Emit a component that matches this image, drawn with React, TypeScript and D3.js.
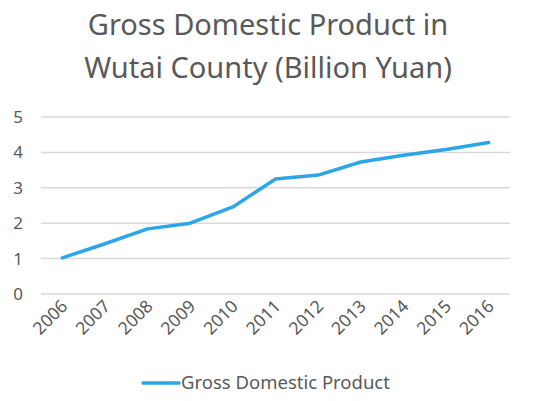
import { useEffect, useRef } from "react";
import * as d3 from "d3";

const years = ["2006", "2007", "2008", "2009", "2010", "2011", "2012", "2013", "2014", "2015", "2016"];
const gdp = [1.02, 1.42, 1.84, 2.0, 2.46, 3.25, 3.36, 3.73, 3.92, 4.08, 4.28];
const yTicks = [0, 1, 2, 3, 4, 5];
const titleLines = ["Gross Domestic Product in", "Wutai County (Billion Yuan)"];
const seriesName = "Gross Domestic Product";

const width = 550;
const height = 401;
const margin = { top: 117, right: 40, bottom: 107, left: 41 };
const lineColor = "#2CA5E9";
const textColor = "#595959";
const font = "'Noto Sans', sans-serif";

const App = () => {
  const ref = useRef<SVGSVGElement | null>(null);

  useEffect(() => {
    const svg = d3.select(ref.current);
    svg.selectAll("*").remove();

    const x = d3
      .scaleBand<string>()
      .domain(years)
      .range([margin.left, width - margin.right]);

    const y = d3
      .scaleLinear()
      .domain([0, 5])
      .range([height - margin.bottom, margin.top]);

    svg
      .append("rect")
      .attr("width", width)
      .attr("height", height)
      .attr("fill", "white");

    // title
    svg
      .append("g")
      .selectAll("text")
      .data(titleLines)
      .join("text")
      .attr("x", 268)
      .attr("y", (_, i) => 35 + i * 43)
      .attr("text-anchor", "middle")
      .attr("font-family", font)
      .attr("font-size", 29)
      .attr("fill", textColor)
      .text((d) => d);

    // gridlines
    svg
      .append("g")
      .selectAll("line")
      .data(yTicks)
      .join("line")
      .attr("x1", margin.left)
      .attr("x2", width - margin.right)
      .attr("y1", (d) => y(d))
      .attr("y2", (d) => y(d))
      .attr("stroke", "#d9d9d9")
      .attr("stroke-width", 1.5);

    // y labels
    svg
      .append("g")
      .selectAll("text")
      .data(yTicks)
      .join("text")
      .attr("x", 23)
      .attr("y", (d) => y(d))
      .attr("dy", "0.35em")
      .attr("text-anchor", "end")
      .attr("font-family", font)
      .attr("font-size", 17)
      .attr("fill", textColor)
      .text((d) => d);

    // x labels
    svg
      .append("g")
      .selectAll("text")
      .data(years)
      .join("text")
      .attr("transform", (d) => {
        const cx = (x(d) ?? 0) + x.bandwidth() / 2 + 2;
        return `translate(${cx},${y(0) + 9}) rotate(-45)`;
      })
      .attr("text-anchor", "end")
      .attr("dy", "0.35em")
      .attr("font-family", font)
      .attr("font-size", 17.5)
      .attr("fill", textColor)
      .text((d) => d);

    const line = d3
      .line<number>()
      .x((_, i) => (x(years[i]) ?? 0) + x.bandwidth() / 2)
      .y((d) => y(d));

    svg
      .append("path")
      .datum(gdp)
      .attr("fill", "none")
      .attr("stroke", lineColor)
      .attr("stroke-width", 3.5)
      .attr("stroke-linejoin", "round")
      .attr("stroke-linecap", "round")
      .attr("d", line);

    // legend
    const legend = svg.append("g").attr("transform", "translate(143,383)");
    legend
      .append("line")
      .attr("x1", 0)
      .attr("x2", 36)
      .attr("stroke", lineColor)
      .attr("stroke-width", 3.5)
      .attr("stroke-linecap", "round");
    legend
      .append("text")
      .attr("x", 38)
      .attr("dy", "0.35em")
      .attr("font-family", font)
      .attr("font-size", 18.5)
      .attr("fill", textColor)
      .text(seriesName);
  }, []);

  return (
    <svg
      ref={ref}
      width={width}
      height={height}
      style={{ position: "absolute", left: 0, top: 0 }}
    ></svg>
  );
};

export default App;
